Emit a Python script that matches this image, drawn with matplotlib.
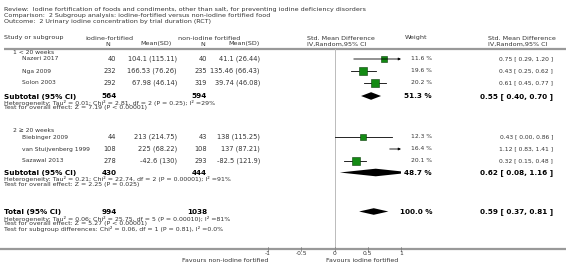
import matplotlib.pyplot as plt
from matplotlib.patches import Polygon

# ---------------------------------------------------------------------------
# data
# ---------------------------------------------------------------------------
studies = ["Nazeri 2017", "Nga 2009", "Solon 2003",
           "Biebinger 2009", "van Stuijvenberg 1999", "Sazawal 2013"]
n_fort = [40, 232, 292, 44, 108, 278]
mean_fort = ["104.1 (115.11)", "166.53 (76.26)", "67.98 (46.14)",
             "213 (214.75)", "225 (68.22)", "-42.6 (130)"]
n_non = [40, 235, 319, 43, 108, 293]
mean_non = ["41.1 (26.44)", "135.46 (66.43)", "39.74 (46.08)",
            "138 (115.25)", "137 (87.21)", "-82.5 (121.9)"]
smd = [0.75, 0.43, 0.61, 0.43, 1.12, 0.32]
lo = [0.29, 0.25, 0.45, 0.00, 0.83, 0.15]
hi = [1.20, 0.62, 0.77, 0.86, 1.41, 0.48]
weight = [11.6, 19.6, 20.2, 12.3, 16.4, 20.1]

groups = ["1 < 20 weeks", "2 \u2265 20 weeks"]
sub_n_fort = [564, 430]
sub_n_non = [594, 444]
sub_est = [0.55, 0.62]
sub_lo = [0.40, 0.08]
sub_hi = [0.70, 1.16]
sub_weight = [51.3, 48.7]
sub_het = ["Heterogeneity: Tau\u00b2 = 0.01; Chi\u00b2 = 2.81, df = 2 (P = 0.25); I\u00b2 =29%",
           "Heterogeneity: Tau\u00b2 = 0.21; Chi\u00b2 = 22.74, df = 2 (P = 0.00001); I\u00b2 =91%"]
sub_test = ["Test for overall effect: Z = 7.19 (P < 0.00001)",
            "Test for overall effect: Z = 2.25 (P = 0.025)"]

total_n_fort = 994
total_n_non = 1038
total_est, total_lo, total_hi = 0.59, 0.37, 0.81
total_notes = ["Heterogeneity: Tau\u00b2 = 0.06; Chi\u00b2 = 25.75, df = 5 (P = 0.00010); I\u00b2 =81%",
               "Test for overall effect: Z = 5.27 (P < 0.00001)",
               "Test for subgroup differences: Chi\u00b2 = 0.06, df = 1 (P = 0.81), I\u00b2 =0.0%"]

header = ["Review:  Iodine fortification of foods and condiments, other than salt, for preventing iodine deficiency disorders",
          "Comparison:  2 Subgroup analysis: iodine-fortified versus non-iodine fortified food",
          "Outcome:  2 Urinary iodine concentration by trial duration (RCT)"]

xticks = [-1, -0.5, 0, 0.5, 1]
xticklabels = ["-1", "-0.5", "0", "0.5", "1"]

# ---------------------------------------------------------------------------
# layout (pixels)
# ---------------------------------------------------------------------------
W, H = 566, 272
FS = 4.3      # study names, ticks
FSN = 4.8     # numbers
FST = 4.5     # heterogeneity / test notes
FSH = 4.6     # header block
FSB = 5.2     # bold subtotal rows
GREY = "#333333"

fig = plt.figure(figsize=(W / 100, H / 100), dpi=100)
ax = fig.add_axes([0, 0, 1, 1])
ax.set_xlim(0, W)
ax.set_ylim(H, 0)
ax.axis("off")

# forest panel: x from -1 to 1 between px 268 and 401
fx0, fx1 = 268, 401
fax = fig.add_axes([fx0 / W, 0, (fx1 - fx0) / W, 1])
fax.set_xlim(-1, 1)
fax.set_ylim(H, 0)
fax.axis("off")


def txt(x, y, s, ha="left", bold=False, size=None, color=GREY):
    ax.text(x, y, s, ha=ha, va="center", fontsize=size or (FSB if bold else FS),
            fontweight="bold" if bold else "normal", color=color)


for i, line in enumerate(header):
    txt(4, 9 + i * 6.5, line, size=FSH)

# column headers
txt(4, 38, "Study or subgroup", size=FSH)
txt(85, 38, "iodine-fortified", size=FSH)
txt(178, 38, "non-iodine fortified", size=FSH)
txt(110, 44, "N", ha="right", size=FSH)
txt(156, 44, "Mean(SD)", ha="center", size=FSH)
txt(205, 44, "N", ha="right", size=FSH)
txt(244, 44, "Mean(SD)", ha="center", size=FSH)
txt(307, 38, "Std. Mean Difference", size=FSH)
txt(307, 44, "IV,Random,95% CI", size=FSH)
txt(405, 38, "Weight", size=FSH)
txt(488, 38, "Std. Mean Difference", size=FSH)
txt(488, 44, "IV,Random,95% CI", size=FSH)

ax.plot([4, W], [48.5, 48.5], color="#999999", lw=1.6, solid_capstyle="butt")
ax.plot([0, W], [248.5, 248.5], color="#999999", lw=1.6, solid_capstyle="butt")
fax.plot([0, 0], [48.5, 248.5], color="#bbbbbb", lw=0.7)

study_y = [59, 71, 83, 137, 149, 161]
group_y = [52.5, 130.5]
sub_y = [96.5, 173]


def diamond(y, est, l, h, half=3.8):
    fax.add_patch(Polygon([[l, y], [est, y - half], [h, y], [est, y + half]],
                          closed=True, color="black", lw=0))


def ci_text(e, l, h):
    return f"{e:.2f} [ {l:.2f}, {h:.2f} ]"


for i, name in enumerate(studies):
    y = study_y[i]
    txt(22, y, name)
    txt(116, y, str(n_fort[i]), ha="right", size=FSN)
    txt(177, y, mean_fort[i], ha="right", size=FSN)
    txt(207, y, str(n_non[i]), ha="right", size=FSN)
    txt(260, y, mean_non[i], ha="right", size=FSN)
    txt(432, y, f"{weight[i]:.1f} %", ha="right", size=FS)
    txt(553, y, ci_text(smd[i], lo[i], hi[i]), ha="right", size=FS)
    # CI line, with arrow if it leaves the panel
    l, h = max(lo[i], -1), min(hi[i], 1)
    if hi[i] > 1:
        fax.annotate("", xy=(1, y), xytext=(l, y),
                     arrowprops=dict(arrowstyle="-|>", lw=0.6, color="black",
                                     mutation_scale=3.5, shrinkA=0, shrinkB=0))
    else:
        fax.plot([l, h], [y, y], color="black", lw=0.6)
    size = 1.3 + weight[i] * 0.23
    if -1 <= smd[i] <= 1:
        fax.plot(smd[i], y, marker="s", ms=size, mfc="#138a13", mec="#0a3d0a", mew=0.4)

for g in range(2):
    txt(13, group_y[g], groups[g])
    y = sub_y[g]
    txt(4, y, "Subtotal (95% CI)", bold=True, color="black")
    txt(117, y, str(sub_n_fort[g]), ha="right", bold=True, color="black")
    txt(207, y, str(sub_n_non[g]), ha="right", bold=True, color="black")
    txt(432, y, f"{sub_weight[g]:.1f} %", ha="right", bold=True, color="black")
    txt(553, y, ci_text(sub_est[g], sub_lo[g], sub_hi[g]), ha="right", bold=True,
        color="black")
    diamond(y - 0.5, sub_est[g], sub_lo[g], sub_hi[g])
    txt(4, y + 6, sub_het[g], size=FST)
    txt(4, y + 11.5, sub_test[g], size=FST)

ty = 212
txt(4, ty, "Total (95% CI)", bold=True, color="black")
txt(117, ty, str(total_n_fort), ha="right", bold=True, color="black")
txt(207, ty, str(total_n_non), ha="right", bold=True, color="black")
txt(432, ty, "100.0 %", ha="right", bold=True, color="black")
txt(553, ty, ci_text(total_est, total_lo, total_hi), ha="right", bold=True,
    color="black")
diamond(ty - 0.5, total_est, total_lo, total_hi, half=3.3)
for i, line in enumerate(total_notes):
    txt(4, ty + 6.5 + i * 5.5, line, size=FST)

# axis ticks and labels
for t, lab in zip(xticks, xticklabels):
    fax.plot([t, t], [246.5, 250.5], color="#777777", lw=0.5, clip_on=False)
    fax.text(t, 253.5, lab, ha="center", va="center", fontsize=FS, color=GREY)
fax.text(-1, 260, "Favours non-iodine fortified", ha="right", va="center",
         fontsize=FST, color=GREY)
fax.text(-0.13, 260, "Favours iodine fortified", ha="left", va="center",
         fontsize=FST, color=GREY)

fig.savefig("out.png", dpi=100, facecolor="white")
